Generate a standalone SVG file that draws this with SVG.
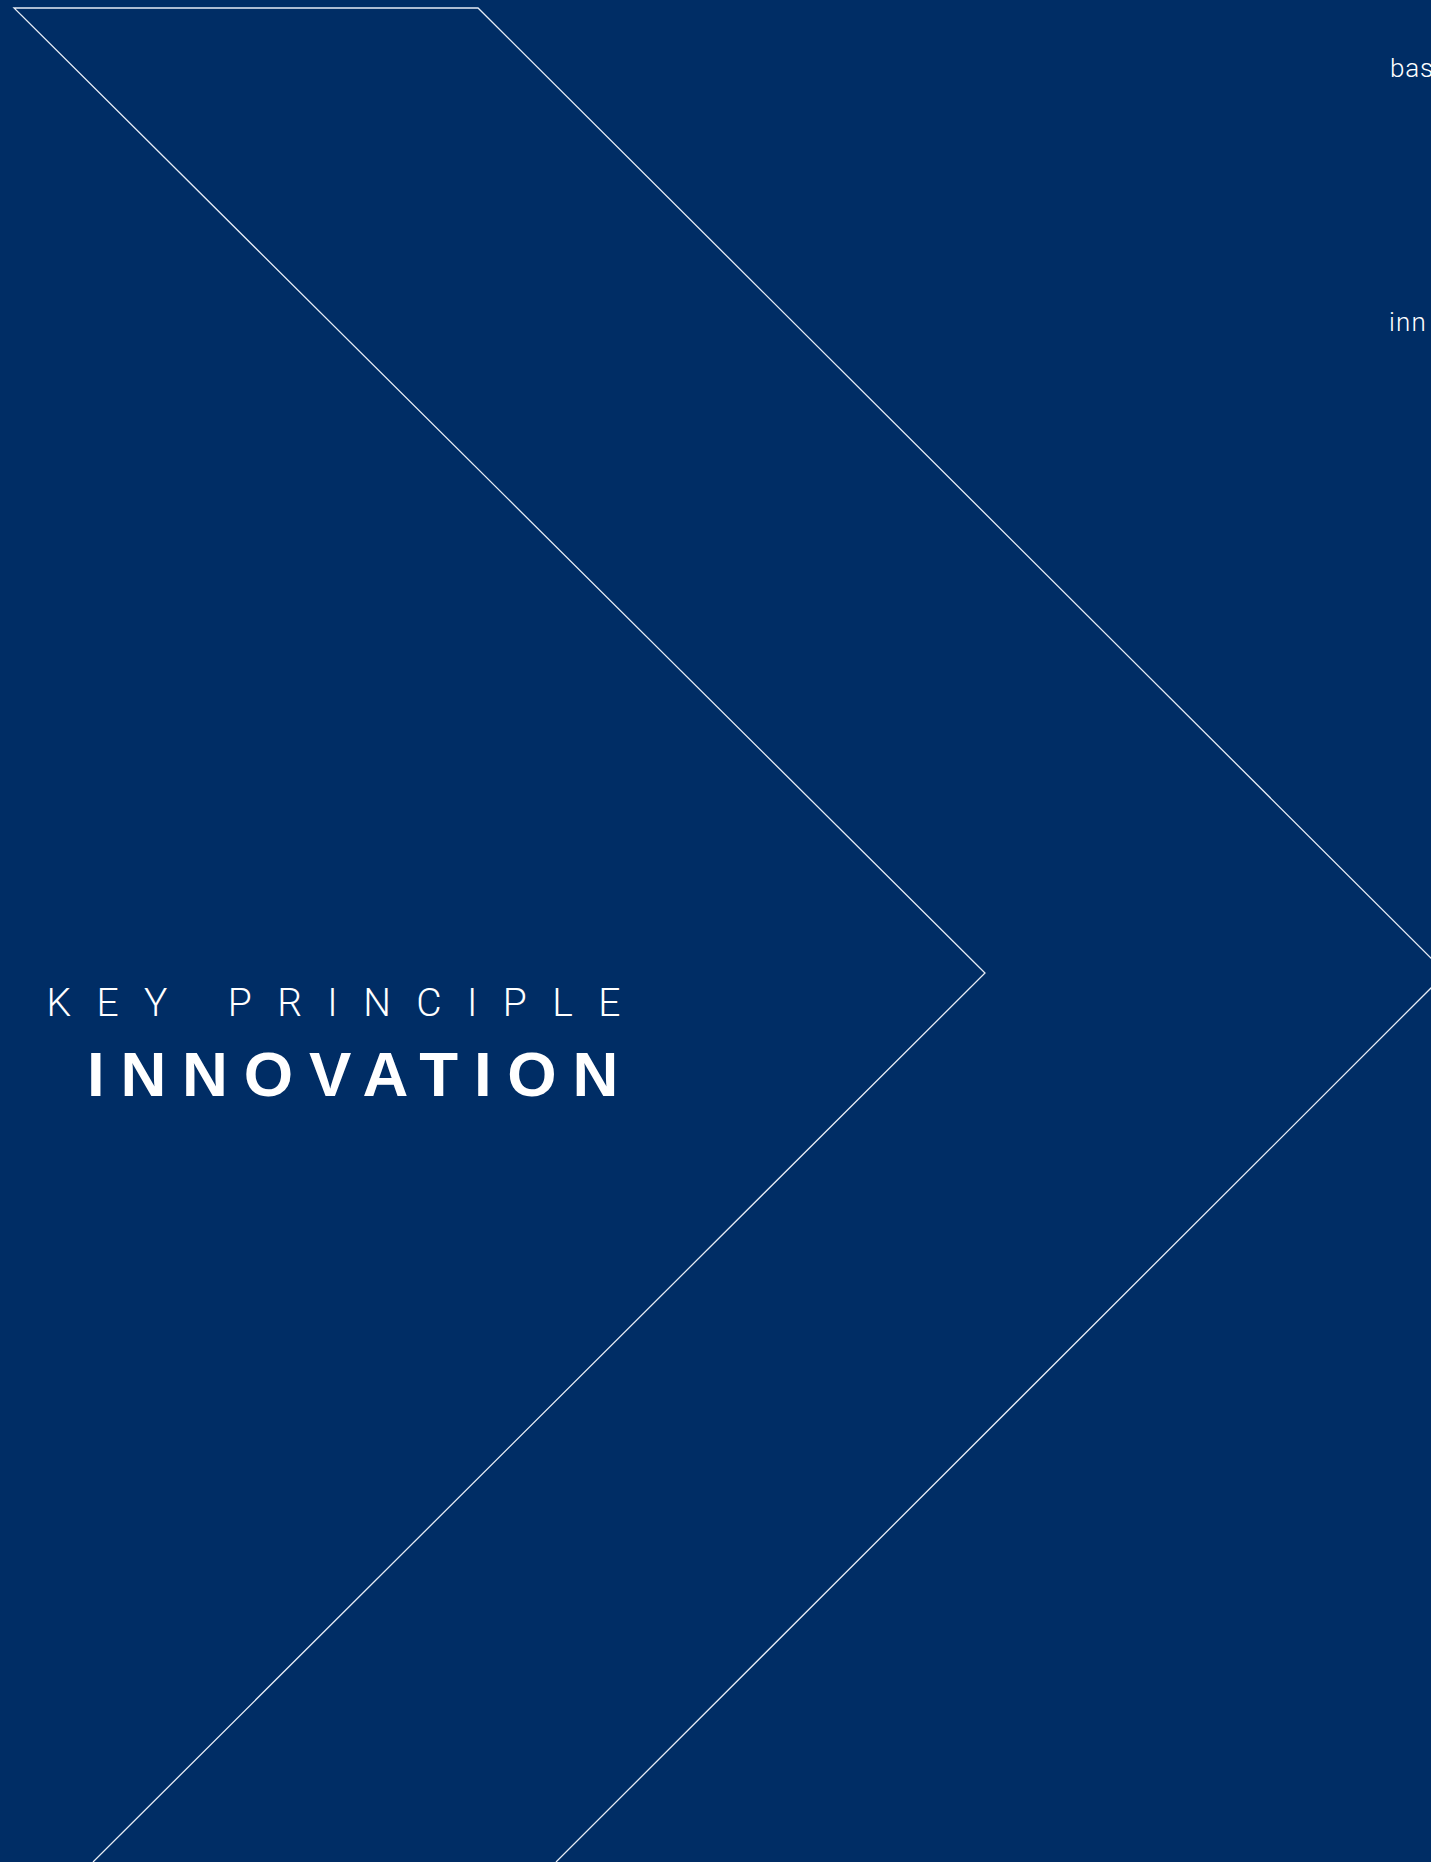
<svg xmlns="http://www.w3.org/2000/svg" width="1431" height="1862" viewBox="0 0 1431 1862">
<style>
.bg{fill:#002d65}
.line{fill:none;stroke:#e6ecf5;stroke-width:1.3;stroke-linejoin:miter}
.light{font-family:Roboto,"Liberation Sans",sans-serif;font-weight:300;fill:#ffffff}
.bold{font-family:"Liberation Sans",Arial,sans-serif;font-weight:700;fill:#ffffff}
</style>
<rect class="bg" x="0" y="0" width="1431" height="1862"/>
<g id="connectors">
<path class="line" d="M93,1862 L985,973 L14,8 L478,8 L1446,973 L556,1862"/>
</g>
<g id="title">
<text class="light" font-size="39" x="46.5" y="1016" letter-spacing="25.4">KEY PRINCIPLE</text>
<text class="bold" font-size="63.5" x="87" y="1096" letter-spacing="15.8">INNOVATION</text>
</g>
<g id="side-text">
<text class="light" font-size="26" x="1390" y="77" letter-spacing="0.8">bas</text>
<text class="light" font-size="26" x="1389" y="331" letter-spacing="1.2">inn</text>
</g>
</svg>
